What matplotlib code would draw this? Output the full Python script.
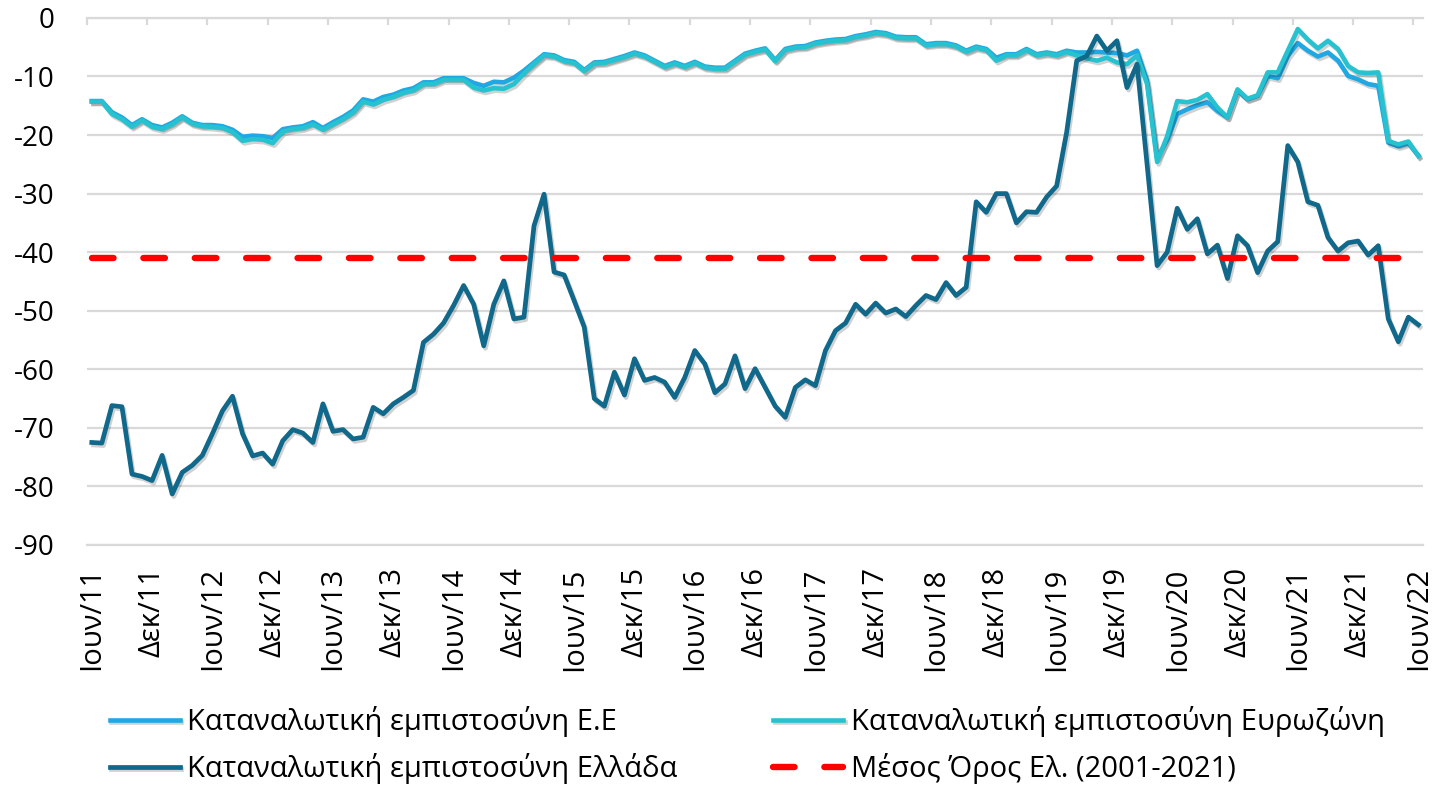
import numpy as np
import matplotlib
matplotlib.use('Agg')
import matplotlib.pyplot as plt
import matplotlib.patheffects as pe

plt.rcParams['font.family'] = ['Open Sans', 'DejaVu Sans']
plt.rcParams['axes.unicode_minus'] = False
plt.rcParams['lines.scale_dashes'] = False

# monthly data, Jun 2011 - Jun 2022
eu = [-14.2, -14.2, -16.1, -17.0, -18.3, -17.3, -18.3, -18.7, -17.9, -16.8,
      -17.9, -18.3, -18.3, -18.5, -19.1, -20.3, -20.1, -20.2, -20.5, -19.0,
      -18.7, -18.5, -17.8, -18.8, -17.8, -16.9, -15.8, -13.9, -14.3, -13.5,
      -13.1, -12.4, -12.0, -11.0, -11.0, -10.3, -10.3, -10.3, -11.1, -11.6,
      -10.9, -11.0, -10.2, -9.0, -7.6, -6.2, -6.4, -7.2, -7.5, -8.9,
      -7.6, -7.5, -7.0, -6.5, -5.9, -6.4, -7.3, -8.2, -7.6, -8.2,
      -7.5, -8.3, -8.5, -8.5, -7.3, -6.1, -5.6, -5.2, -7.2, -5.3,
      -4.9, -4.8, -4.2, -3.9, -3.7, -3.6, -3.1, -2.8, -2.4, -2.6,
      -3.2, -3.3, -3.3, -4.5, -4.3, -4.3, -4.7, -5.6, -4.9, -5.3,
      -6.8, -6.2, -6.2, -5.3, -6.2, -5.9, -6.2, -5.6, -5.9, -5.9,
      -5.8, -5.9, -6.0, -6.4, -5.6, -10.7, -24.0, -20.8, -16.4, -15.6,
      -14.9, -14.4, -15.9, -17.0, -12.4, -13.9, -13.3, -9.9, -10.3, -6.5,
      -4.3, -5.6, -6.6, -5.9, -7.3, -9.9, -10.5, -11.3, -11.6, -21.3,
      -21.9, -21.4, -23.5]

euro_area = [-14.3, -14.3, -16.4, -17.3, -18.6, -17.5, -18.6, -19.0, -18.2, -17.0,
             -18.1, -18.5, -18.6, -18.8, -19.5, -21.0, -20.7, -20.8, -21.4, -19.4,
             -19.0, -18.8, -18.2, -19.1, -18.2, -17.3, -16.2, -14.3, -14.8, -14.0,
             -13.5, -12.8, -12.4, -11.3, -11.3, -10.6, -10.6, -10.6, -11.9, -12.4,
             -12.0, -12.1, -11.3, -9.5, -7.9, -6.4, -6.6, -7.4, -7.7, -9.1,
             -7.8, -7.7, -7.2, -6.7, -6.1, -6.6, -7.5, -8.4, -7.8, -8.4,
             -7.7, -8.5, -8.7, -8.7, -7.5, -6.3, -5.8, -5.4, -7.4, -5.5,
             -5.1, -5.0, -4.4, -4.1, -3.9, -3.8, -3.3, -3.0, -2.6, -2.8,
             -3.4, -3.5, -3.5, -4.7, -4.5, -4.5, -4.9, -5.8, -5.1, -5.5,
             -7.3, -6.4, -6.4, -5.5, -6.4, -6.1, -6.4, -5.8, -6.4, -6.9,
             -7.3, -6.8, -7.6, -7.9, -6.4, -11.3, -24.6, -20.2, -14.2, -14.4,
             -14.0, -13.0, -15.3, -17.0, -12.2, -13.8, -13.2, -9.3, -9.3, -5.6,
             -1.9, -3.7, -5.2, -3.9, -5.3, -8.2, -9.3, -9.4, -9.3, -21.0,
             -21.6, -21.1, -23.6]

greece = [-72.5, -72.6, -66.2, -66.4, -77.9, -78.3, -79.0, -74.7, -81.3, -77.6,
          -76.4, -74.7, -71.0, -67.1, -64.6, -71.0, -74.8, -74.3, -76.2, -72.2,
          -70.3, -70.9, -72.5, -65.9, -70.6, -70.3, -71.9, -71.6, -66.5, -67.6,
          -65.9, -64.8, -63.6, -55.4, -54.0, -52.1, -49.1, -45.7, -48.9, -56.0,
          -48.9, -44.9, -51.4, -51.1, -35.5, -30.1, -43.4, -43.9, -48.3, -52.8,
          -65.0, -66.3, -60.5, -64.4, -58.2, -61.9, -61.4, -62.2, -64.8, -61.4,
          -56.8, -59.1, -64.0, -62.5, -57.7, -63.3, -59.9, -63.1, -66.3, -68.2,
          -63.1, -61.8, -62.8, -56.8, -53.4, -52.1, -48.9, -50.6, -48.7, -50.4,
          -49.7, -51.0, -49.1, -47.4, -48.1, -45.2, -47.4, -46.0, -31.4, -33.2,
          -30.0, -30.0, -35.0, -33.1, -33.2, -30.6, -28.7, -19.5, -7.3, -6.5,
          -3.1, -5.6, -3.9, -11.9, -7.9, -25.0, -42.3, -40.0, -32.5, -36.1,
          -34.3, -40.3, -38.8, -44.5, -37.2, -38.9, -43.5, -39.8, -38.2, -21.8,
          -24.6, -31.4, -32.0, -37.5, -39.8, -38.4, -38.1, -40.5, -38.9, -51.4,
          -55.3, -51.1, -52.4]

greece_mean = -41.0  # 2001-2021 average

tick_labels = ['Ιουν/11', 'Δεκ/11', 'Ιουν/12', 'Δεκ/12', 'Ιουν/13', 'Δεκ/13',
               'Ιουν/14', 'Δεκ/14', 'Ιουν/15', 'Δεκ/15', 'Ιουν/16', 'Δεκ/16',
               'Ιουν/17', 'Δεκ/17', 'Ιουν/18', 'Δεκ/18', 'Ιουν/19', 'Δεκ/19',
               'Ιουν/20', 'Δεκ/20', 'Ιουν/21', 'Δεκ/21', 'Ιουν/22']

x = np.arange(len(greece))

fig = plt.figure(figsize=(14.39, 7.89), dpi=100)
ax = fig.add_axes([0.0603, 0.3093, 0.9289, 0.668])

shadow = [pe.SimpleLineShadow(offset=(1.2, -1.8), alpha=0.18, shadow_color='black'),
          pe.Normal()]

l_eu, = ax.plot(x, eu, color='#1fa8e3', lw=3.3, solid_joinstyle='round',
                path_effects=shadow, label='Καταναλωτική εμπιστοσύνη Ε.Ε')
l_ea, = ax.plot(x, euro_area, color='#27c2d0', lw=3.3, solid_joinstyle='round',
                path_effects=shadow, label='Καταναλωτική εμπιστοσύνη Ευρωζώνη')
l_gr, = ax.plot(x, greece, color='#10688a', lw=3.4, solid_joinstyle='round',
                path_effects=shadow, label='Καταναλωτική εμπιστοσύνη Ελλάδα')
l_mean, = ax.plot(x, np.full(len(x), greece_mean), color='#ff0000', lw=4.6,
                  dashes=(15.5, 21.5), dash_capstyle='round',
                  label='Μέσος Όρος Ελ. (2001-2021)')

ax.set_xlim(-0.5, len(x) - 0.5)
ax.set_ylim(-90, 0)

ax.set_yticks(np.arange(-90, 1, 10))
ax.grid(axis='y', color='#d9d9d9', lw=1.6)
ax.set_axisbelow(True)
for side in ['left', 'right']:
    ax.spines[side].set_visible(False)
for side in ['top', 'bottom']:
    ax.spines[side].set_color('#d9d9d9')
    ax.spines[side].set_linewidth(1.6)

ax.set_xticks(x[::6])
ax.set_xticklabels(tick_labels, rotation=90)
ax.set_xticks(np.arange(-0.5, len(x) - 1, 6), minor=True)
ax.tick_params(axis='x', which='major', length=0, pad=16, labelsize=21)
ax.tick_params(axis='x', which='minor', bottom=False, top=True, direction='in',
               length=5, width=1.6, color='#d9d9d9')
ax.tick_params(axis='y', length=0, pad=23, labelsize=20)

fig.legend(handles=[l_eu, l_gr, l_ea, l_mean], loc='upper left',
           bbox_to_anchor=(0.068, 0.12), ncol=2, frameon=False, fontsize=21,
           handlelength=2.4, handletextpad=0.25, columnspacing=3.3,
           labelspacing=0.55, borderaxespad=0)

fig.savefig('out.png', dpi=100)
